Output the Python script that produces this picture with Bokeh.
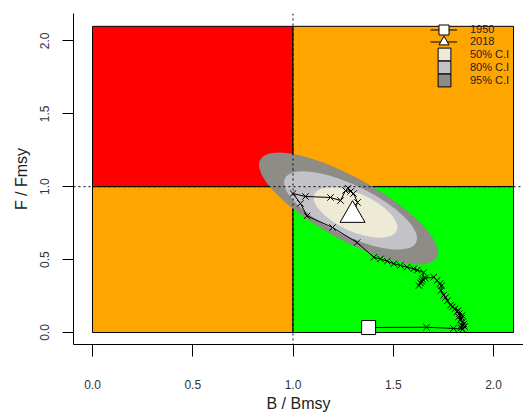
from bokeh.plotting import figure
from bokeh.models import (Range1d, FixedTicker, NumeralTickFormatter, Span,
                          Legend, LegendItem, ColumnDataSource)
from bokeh.embed import file_html
from bokeh.resources import INLINE

# ---------------- data ----------------
axis_ticks = [0.0, 0.5, 1.0, 1.5, 2.0]

# Kobe quadrants (B/Bmsy, F/Fmsy)
zone_left = [0.0, 1.0, 0.0, 1.0]
zone_right = [1.0, 2.1, 1.0, 2.1]
zone_bottom = [1.0, 1.0, 0.0, 0.0]
zone_top = [2.1, 2.1, 1.0, 1.0]
zone_colors = ["#FF0000", "#FFA500", "#FFA500", "#00FF00"]

# confidence regions of the final year (approximated as ellipses)
ci_labels = ["95% C.I", "80% C.I", "50% C.I"]
ci_b = [1.277, 1.287, 1.312]
ci_f = [0.850, 0.837, 0.823]
ci_width_b = [1.007, 0.728, 0.449]
ci_height_f = [0.425, 0.343, 0.261]
ci_angle_deg = [-29, -26, -24]
ci_colors = ["#8e8c86", "#c3c2c8", "#eeead6"]

# stock trajectory 1950 -> 2018
first_year = "1950"
last_year = "2018"
b_bmsy = [1.377, 1.666, 1.800, 1.846, 1.856, 1.838, 1.852, 1.840, 1.848, 1.834,
          1.842, 1.826, 1.844, 1.830, 1.818, 1.824, 1.808, 1.795, 1.786, 1.770,
          1.760, 1.752, 1.738, 1.740, 1.734, 1.719, 1.702, 1.660, 1.642, 1.628,
          1.636, 1.646, 1.652, 1.620, 1.602, 1.569, 1.536, 1.503, 1.470, 1.436,
          1.403, 1.320, 1.197, 1.070, 1.037, 1.000, 1.062, 1.187, 1.237, 1.262,
          1.287, 1.275, 1.302, 1.322, 1.297]
f_fmsy = [0.034, 0.036, 0.028, 0.022, 0.040, 0.032, 0.058, 0.050, 0.075, 0.085,
          0.100, 0.108, 0.118, 0.130, 0.140, 0.152, 0.163, 0.176, 0.187, 0.218,
          0.240, 0.256, 0.288, 0.320, 0.336, 0.357, 0.380, 0.372, 0.352, 0.322,
          0.340, 0.366, 0.412, 0.428, 0.437, 0.448, 0.460, 0.472, 0.489, 0.505,
          0.516, 0.617, 0.720, 0.800, 0.885, 0.953, 0.933, 0.926, 0.905, 0.974,
          0.967, 0.990, 0.953, 0.892, 0.805]

# ---------------- figure ----------------
p = figure(width=523, height=414, output_backend="svg", toolbar_location=None,
           x_range=Range1d(-0.0948, 2.1496), y_range=Range1d(-0.0823, 2.1879),
           min_border_left=73, min_border_right=0, min_border_top=13,
           min_border_bottom=70)
p.outline_line_color = None
p.grid.visible = False
p.background_fill_color = "white"
p.border_fill_color = "white"

for ax in (p.xaxis[0], p.yaxis[0]):
    ax.ticker = FixedTicker(ticks=axis_ticks)
    ax.formatter = NumeralTickFormatter(format="0.0")
    ax.minor_tick_line_color = None
    ax.major_tick_in = 0
    ax.axis_line_color = "black"
    ax.axis_line_width = 1
    ax.major_tick_line_color = "black"
    ax.major_label_text_font = "Liberation Sans"
    ax.major_label_text_font_size = "12px"
    ax.major_label_text_color = "#333333"
    ax.axis_label_text_font = "Liberation Sans"
    ax.axis_label_text_font_size = "16px"
    ax.axis_label_text_font_style = "normal"
    ax.axis_label_text_color = "#222222"

p.xaxis.axis_label = "B / Bmsy"
p.xaxis.major_tick_out = 12
p.xaxis.major_label_standoff = 23
p.xaxis.axis_label_standoff = 3

p.yaxis.axis_label = "F / Fmsy"
p.yaxis.major_tick_out = 11
p.yaxis.major_label_standoff = 13
p.yaxis.major_label_orientation = "vertical"
p.yaxis.axis_label_standoff = 8

# quadrants
p.quad(left=zone_left, right=zone_right, bottom=zone_bottom, top=zone_top,
       fill_color=zone_colors, line_color="black", line_width=1)

# confidence ellipses
ci_src = ColumnDataSource(dict(x=ci_b, y=ci_f, w=ci_width_b, h=ci_height_f,
                               a=ci_angle_deg, c=ci_colors))
p.ellipse(x="x", y="y", width="w", height="h", angle="a", angle_units="deg",
          fill_color="c", line_color=None, source=ci_src)

# reference lines
p.add_layout(Span(location=1.0, dimension="height", line_color="black",
                  line_dash="2 3", line_width=1))
p.add_layout(Span(location=1.0, dimension="width", line_color="black",
                  line_dash="2 3", line_width=1))

# trajectory
traj = p.line(b_bmsy, f_fmsy, line_color="black", line_width=1)
p.scatter(b_bmsy, f_fmsy, marker="x", size=9, line_color="black", line_width=1)
start_r = p.scatter(b_bmsy[:1], f_fmsy[:1], marker="square", size=14,
                    fill_color="white", line_color="black", line_width=1)
end_r = p.scatter(b_bmsy[-1:], f_fmsy[-1:], marker="triangle", size=25,
                  fill_color="white", line_color="black", line_width=1)

# legend-only swatches for the C.I. regions (NaN -> not drawn in the plot)
nan = float("nan")
swatches = {}
for lab, col in zip(ci_labels, ci_colors):
    swatches[lab] = p.quad(left=[nan], right=[nan], bottom=[nan], top=[nan],
                           fill_color=col, line_color="black", line_width=1)

common = dict(padding=0, margin=0, spacing=0, background_fill_alpha=0,
              border_line_color=None, label_text_font="Liberation Sans",
              label_text_font_size="11px", label_text_color="#222222",
              label_height=10)

# one legend per row so that rows can sit as tightly as in the reference
row_specs = [
    ([traj, start_r], first_year, (357, 302.5), 27, 25, 13),
    ([traj, end_r], last_year, (357, 290.5), 27, 25, 13),
    ([swatches["50% C.I"]], "50% C.I", (363, 282.5), 16, 16, 18),
    ([swatches["80% C.I"]], "80% C.I", (363, 269.5), 16, 16, 18),
    ([swatches["95% C.I"]], "95% C.I", (363, 256.5), 16, 16, 18),
]
for rends, lab, loc, gw, gh, standoff in row_specs:
    p.add_layout(Legend(items=[LegendItem(label=lab, renderers=rends)],
                        location=loc, glyph_width=gw, glyph_height=gh,
                        label_standoff=standoff, **common))

open("out.html", "w").write(file_html(p, INLINE))
